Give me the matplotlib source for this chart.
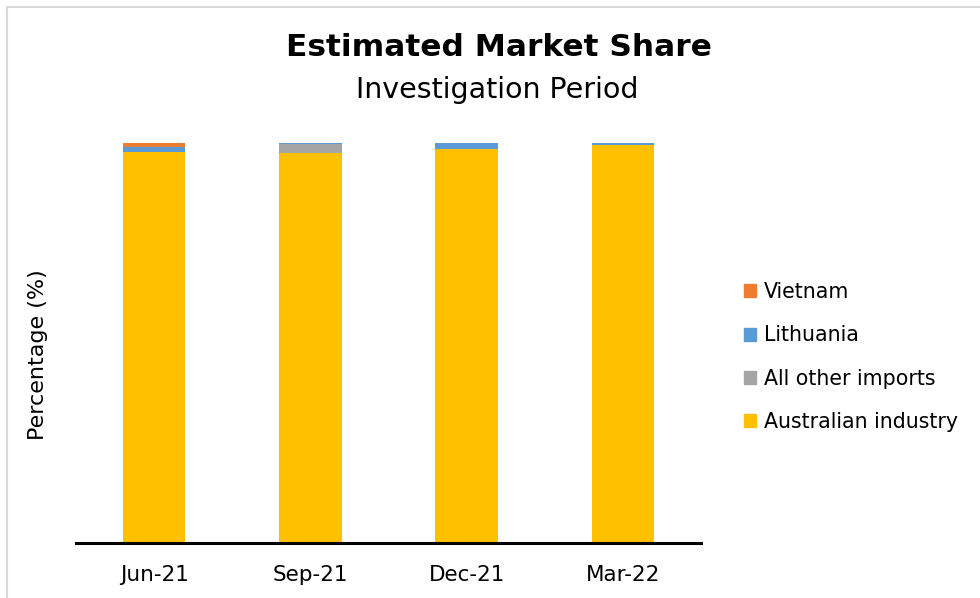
import matplotlib.pyplot as plt
import numpy as np
from matplotlib.lines import Line2D
from matplotlib.patches import Patch

# Дані (частка ринку, %)
periods = ['Jun-21', 'Sep-21', 'Dec-21', 'Mar-22']
australian = [97.8, 97.4, 98.4, 99.5]
other_imports = [0.0, 2.3, 0.1, 0.1]
lithuania = [1.2, 0.3, 1.5, 0.4]
vietnam = [1.0, 0.0, 0.0, 0.0]

series = [
    ('Australian industry', australian, '#FFC000'),
    ('All other imports', other_imports, '#A5A5A5'),
    ('Lithuania', lithuania, '#5B9BD5'),
    ('Vietnam', vietnam, '#ED7D31'),
]

fig = plt.figure(figsize=(9.8, 5.98), dpi=100)
ax = fig.add_axes([76 / 980, 1 - 543 / 598, 625 / 980, 400 / 598])

x = np.arange(len(periods))
bottom = np.zeros(len(periods))
for name, vals, col in series:
    ax.bar(x, vals, 0.4, bottom=bottom, color=col, label=name)
    bottom += np.array(vals)

ax.set_xlim(-0.5, len(periods) - 0.5)
ax.set_ylim(0, 100)
ax.set_yticks([])
ax.set_xticks(x)
ax.set_xticklabels(periods, fontsize=15.5)
ax.tick_params(axis='x', length=0, pad=16)
for s in ['top', 'right', 'left']:
    ax.spines[s].set_visible(False)
ax.spines['bottom'].set_linewidth(2.2)
ax.spines['bottom'].set_color('black')
ax.set_ylabel('Percentage (%)', fontsize=16)
ax.yaxis.set_label_coords(-0.045, 0.47)

fig.text(499 / 980, 1 - 48 / 598, 'Estimated Market Share', ha='center', va='center',
         fontsize=22.5, fontweight='bold')
fig.text(497 / 980, 1 - 90 / 598, 'Investigation Period', ha='center', va='center',
         fontsize=20.5)

# Легенда у зворотному порядку
handles = [Patch(color=col, label=name) for name, vals, col in series[::-1]]
fig.legend(handles=handles, loc='center left', bbox_to_anchor=(725 / 980, 1 - 357 / 598),
           frameon=False, fontsize=14.8, handlelength=0.6, handleheight=0.6,
           handletextpad=0.4, labelspacing=1.13)

# Рамка діаграми
fig.add_artist(Line2D([7 / 980, 1], [1 - 7 / 598, 1 - 7 / 598], color='#D9D9D9', lw=1.5))
fig.add_artist(Line2D([7 / 980, 7 / 980], [0, 1 - 7 / 598], color='#D9D9D9', lw=1.5))

fig.savefig('out.png', dpi=100)
